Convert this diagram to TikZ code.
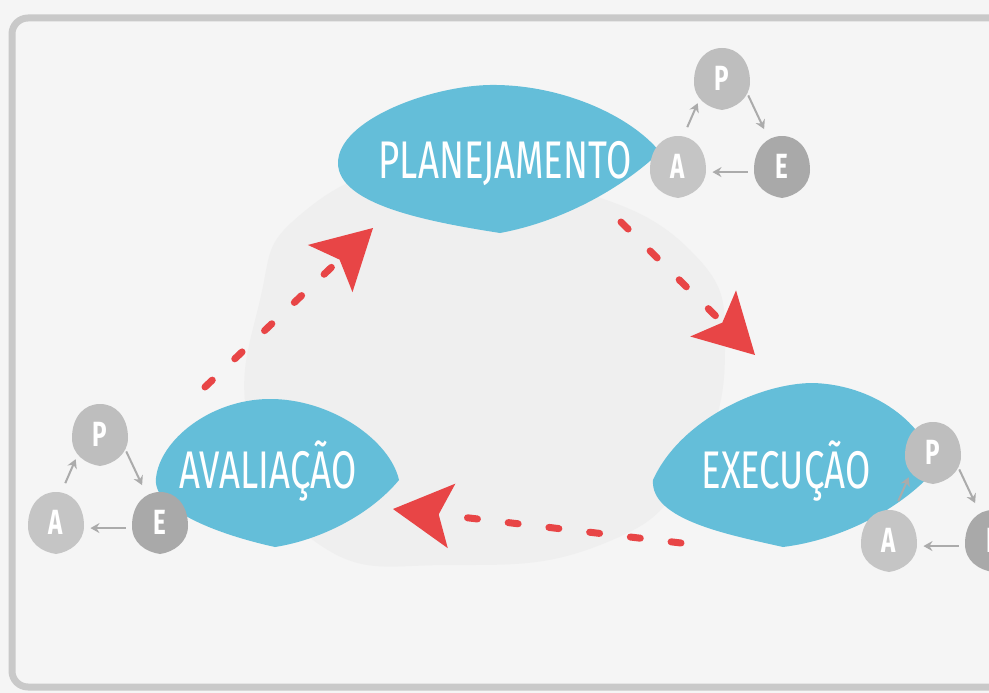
\documentclass[tikz,border=0pt]{standalone}
\usepackage{fontspec}
\setmainfont{Fira Sans}[FakeStretch=0.69]
\usetikzlibrary{arrows.meta}

\definecolor{paper}{HTML}{F5F5F5}
\definecolor{blotch}{HTML}{EFEFEF}
\definecolor{framegray}{HTML}{C9C9C9}
\definecolor{blobblue}{HTML}{64BED9}
\definecolor{flowred}{HTML}{E84546}
\definecolor{stoneP}{HTML}{BEBEBE}
\definecolor{stoneA}{HTML}{C5C5C5}
\definecolor{stoneE}{HTML}{A9A9A9}
\definecolor{thinarrow}{HTML}{ABABAB}

\tikzset{
  phase/.style={text=white, anchor=base, font=\fontsize{53}{53}\selectfont},
  stone/.style={circle, minimum size=60pt, inner sep=0pt, outer sep=5pt, text=white, font=\fontsize{35}{35}\selectfont\bfseries},
  cyclearrow/.style={thinarrow, line width=2pt, -{Stealth[length=9pt,width=10pt,inset=3pt]}},
  flow/.style={flowred, line width=7pt, line cap=round, dash pattern=on 10pt off 31pt,
    -{Stealth[length=59pt,width=65pt,inset=13pt,line width=0pt]}},
  pics/pebble/.style={code={
    \fill[#1] (0,32) .. controls (-14,30) and (-28,21) .. (-28,4)
      .. controls (-28,-17) and (-16,-30) .. (0,-30)
      .. controls (16,-30) and (28,-17) .. (28,4)
      .. controls (28,20) and (14,30) .. (0,32) -- cycle;
  }},
}

\begin{document}
\begin{tikzpicture}[x=1pt, y=-1pt]
 \useasboundingbox (0,0) rectangle (989,693);
 \fill[paper] (0,0) rectangle (989,693);
 \fill[blotch] plot[smooth cycle, tension=0.8] coordinates {(260,300) (300,215) (420,165) (560,185) (690,250) (725,350) (690,470) (600,545) (450,565) (320,545) (250,430)};
 \draw[framegray, line width=7pt, rounded corners=16pt] (12,18) rectangle (1010,687);

 %phases
 \fill[blobblue] (500,233) .. controls (430,222) and (338,205) .. (338,163)
   .. controls (338,120) and (430,86) .. (490,85)
   .. controls (560,84) and (630,115) .. (660,152)
   .. controls (620,190) and (560,222) .. (500,233) -- cycle;
 \fill[blobblue] (783,547) .. controls (730,535) and (650,520) .. (653,480)
   .. controls (680,420) and (760,383) .. (813,383)
   .. controls (880,385) and (930,430) .. (935,470)
   .. controls (900,510) and (840,540) .. (783,547) -- cycle;
 \fill[blobblue] (275,547) .. controls (220,535) and (152,510) .. (156,478)
   .. controls (160,440) and (210,400) .. (268,399)
   .. controls (330,398) and (390,440) .. (399,480)
   .. controls (370,515) and (320,540) .. (275,547) -- cycle;

 \node[phase] (plan) at (505,178) {PLANEJAMENTO};
 \node[phase] (exec) at (786,488) {EXECUÇÃO};
 \node[phase] (aval) at (268,488) {AVALIAÇÃO};

 %flow between phases
 \coordinate (aval-out) at (205,387);
 \coordinate (plan-in)  at (373,228);
 \coordinate (plan-out) at (621,222);
 \coordinate (exec-in)  at (755,355);
 \coordinate (exec-out) at (681,543);
 \coordinate (aval-in)  at (393,509);
 \draw[flow] (aval-out) -- (plan-in);
 \draw[flow] (plan-out) -- (exec-in);
 \draw[flow] (exec-out) -- (aval-in);

 %small cycles
 \foreach \px/\py/\k in {722/78/t, 100/434/l, 933/452/r} {
   \pic at (\px,\py) {pebble=stoneP};
   \pic at (\px-44,\py+88) {pebble=stoneA};
   \pic at (\px+60,\py+88) {pebble=stoneE};
   \node[stone] (\k-P) at (\px,\py) {P};
   \node[stone] (\k-A) at (\px-44,\py+88) {A};
   \node[stone] (\k-E) at (\px+60,\py+88) {E};
   \draw[cyclearrow, shorten <=5pt] (\k-A.78) -- (\k-P.226);
   \draw[cyclearrow, shorten <=-4pt, shorten >=6pt] (\k-P.323) -- (\k-E.116);
   \draw[cyclearrow] (\k-E.190) -- (\k-A.350);
 }

\end{tikzpicture}
\end{document}
